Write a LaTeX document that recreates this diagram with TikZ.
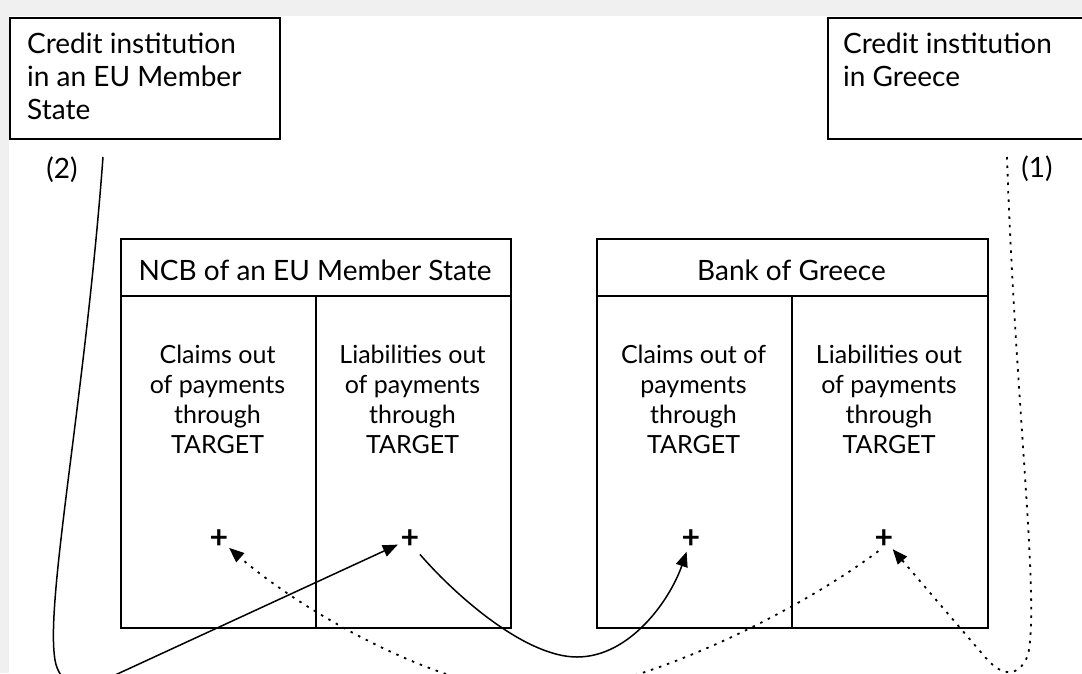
\documentclass[tikz,border=0pt]{standalone}
\usepackage{fontspec}
\setmainfont{Lato}
\usetikzlibrary{arrows.meta}
\definecolor{bggray}{RGB}{240,240,240}
\begin{document}
\begin{tikzpicture}[x=1pt,y=-1pt,
  box/.style={draw, line width=1.8pt, inner sep=0pt, anchor=north west},
  txt/.style={inner sep=0pt, font=\fontsize{28}{33}\selectfont},
  cibox/.style={txt, anchor=north west, align=left, font=\fontsize{28}{33}\selectfont},
  coltxt/.style={txt, anchor=north, align=center, font=\fontsize{25}{30}\selectfont},
  plus/.style={circle, inner sep=0pt, minimum size=22pt, font=\fontsize{32}{32}\selectfont\bfseries},
  arr/.style={line width=1.5pt, -{Triangle[length=15pt,width=12pt]}},
  dotarr/.style={arr, line width=1.8pt, dash pattern=on 2.5pt off 6pt}
]
\useasboundingbox (0,0) rectangle (1082,673);
\clip (0,0) rectangle (1082,673);
\fill[bggray] (0,0) rectangle (1082,673);
\fill[white] (9,16) rectangle (1082,673);

% credit institutions
\node[box, minimum width=270pt, minimum height=121pt] (ciEU) at (9,17) {};
\node[box, minimum width=270pt, minimum height=121pt] (ciGR) at (827,17) {};
\node[cibox] (ciEUt) at (27,33) {Credit institution\\in an EU Member\\State};
\node[cibox] (ciGRt) at (843,33) {Credit institution\\in Greece};
\node[txt, anchor=base] (l2) at (62,178) {(2)};
\node[txt, anchor=base] (l1) at (1037,177) {(1)};

% NCB of an EU Member State
\node[box, minimum width=390pt, minimum height=57pt] (ncb) at (120,238) {};
\node[box, minimum width=195pt, minimum height=332pt] (ncbC) at (120,295) {};
\node[box, minimum width=195pt, minimum height=332pt] (ncbL) at (315,295) {};
\node[txt, anchor=base] (ncbt) at (315,280) {NCB of an EU Member State};
\node[coltxt] (ncbCt) at (217.5,345) {Claims out\\of payments\\through\\TARGET};
\node[coltxt] (ncbLt) at (412.5,345) {Liabilities out\\of payments\\through\\TARGET};

% Bank of Greece
\node[box, minimum width=391pt, minimum height=57pt] (bog) at (596,238) {};
\node[box, minimum width=195pt, minimum height=332pt] (bogC) at (596,295) {};
\node[box, minimum width=196pt, minimum height=332pt] (bogL) at (791,295) {};
\node[txt, anchor=base] (bogt) at (791.5,280) {Bank of Greece};
\node[coltxt] (bogCt) at (693.5,345) {Claims out of\\payments\\through\\TARGET};
\node[coltxt] (bogLt) at (889,345) {Liabilities out\\of payments\\through\\TARGET};

% plus signs
\node[plus] (p1) at (219,539) {+};
\node[plus] (p2) at (410,539) {+};
\node[plus] (p3) at (691,539) {+};
\node[plus] (p4) at (884,539) {+};

\coordinate (s2) at (103,157);
\coordinate (s1) at (1007,157);

% payment (2)
\draw[arr] (s2) .. controls (85,400) and (45,600) .. (55,660)
  .. controls (59,684) and (80,692) .. (100,682) -- (p2);
\draw[arr, shorten <=5pt] (p2.-60) .. controls (455,595) and (525,657) .. (577,657)
  .. controls (630,657) and (670,600) .. (p3);

% payment (1)
\draw[dotarr] (s1) .. controls (1015,400) and (1040,600) .. (1028,655)
  .. controls (1018,680) and (1000,675) .. (985,657) -- (p4);
\draw[dotarr] (p4.-115) .. controls (800,610) and (655,682) .. (560,692)
  .. controls (455,702) and (300,610) .. (p1);
\end{tikzpicture}
\end{document}
